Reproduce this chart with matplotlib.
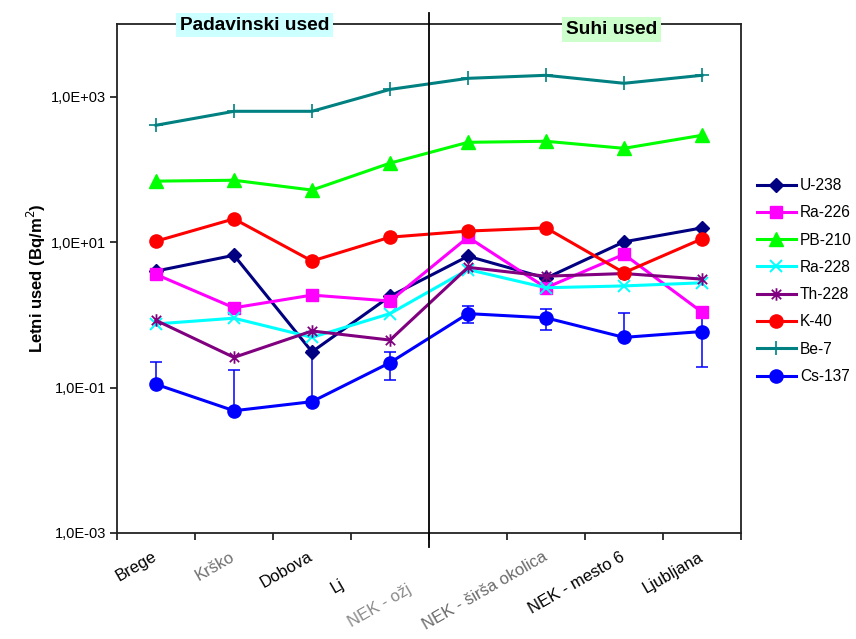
import numpy as np
import matplotlib
matplotlib.use("Agg")
import matplotlib.pyplot as plt
from matplotlib.path import Path
from matplotlib.ticker import FixedLocator, NullLocator, FuncFormatter
from matplotlib.transforms import blended_transform_factory, offset_copy

plt.rcParams['font.family'] = ['Liberation Sans', 'DejaVu Sans']

# Sampling locations (precipitation: first four, dry deposition: last four)
categories = ["Brege", "Krško", "Dobova", "Ljubljana",
              "NEK - ožja okolica", "NEK - širša okolica", "NEK - mesto 6", "Ljubljana"]
# number of characters printed for each location label (None = whole label)
label_chars = [None, None, None, 2, 9, None, None, None]
label_colors = ["black", "#707070", "black", "black", "#8a8a8a", "#6a6a6a", "black", "black"]

# Annual deposition (Bq/m^2)
u238 = [4.0, 6.6, 0.31, 1.8, 6.4, 3.2, 10.1, 15.7]
ra226 = [3.6, 1.25, 1.87, 1.55, 11.7, 2.36, 6.8, 1.09]
pb210 = [69, 71, 52, 122, 236, 244, 195, 295]
ra228 = [0.75, 0.9, 0.49, 1.04, 4.2, 2.36, 2.5, 2.76]
th228 = [0.84, 0.26, 0.6, 0.45, 4.5, 3.4, 3.7, 3.1]
k40 = [10.3, 20.9, 5.5, 11.7, 14.2, 15.7, 3.8, 11.1]
be7 = [405, 630, 630, 1260, 1790, 1970, 1530, 1970]
cs137 = [0.111, 0.048, 0.064, 0.22, 1.04, 0.91, 0.49, 0.59]
cs137_err = [0.114, 0.126, 0.25, 0.093, 0.27, 0.29, 0.585, 0.4]

group_titles = ["Padavinski used", "Suhi used"]

# Excel-style asterisk: an "x" crossed by a vertical stroke
asterisk = Path([(0, -1), (0, 1), (-0.75, -0.75), (0.75, 0.75), (-0.75, 0.75), (0.75, -0.75)],
                [Path.MOVETO, Path.LINETO] * 3)

series = [
    ("U-238", u238, dict(color="#000080", marker="D", ms=7.5)),
    ("Ra-226", ra226, dict(color="#FF00FF", marker="s", ms=8.5)),
    ("PB-210", pb210, dict(color="#00FF00", marker="^", ms=10)),
    ("Ra-228", ra228, dict(color="#00FFFF", marker="x", ms=8.5, mew=1.4)),
    ("Th-228", th228, dict(color="#800080", marker=asterisk, ms=9, mew=1.3)),
    ("K-40", k40, dict(color="#FF0000", marker="o", ms=9.5)),
    ("Be-7", be7, dict(color="#008080", marker="+", ms=10, mew=1.2)),
    ("Cs-137", cs137, dict(color="#0000FF", marker="o", ms=9.5)),
]

fig = plt.figure(figsize=(8.56, 6.39), dpi=100)
ax = fig.add_axes([117 / 856, 1 - 533 / 639, 624 / 856, 509 / 639])

x = np.arange(1, len(categories) + 1)

for name, vals, st in series:
    ax.plot(x, vals, lw=2.2, label=name, zorder=3, **st)

# Cs-137 uncertainties (lower whisker only where it stays positive)
cs = np.array(cs137)
err = np.array(cs137_err)
lower = np.where(err < cs, err, 0.0)
ax.errorbar(x, cs, yerr=[lower, err], fmt="none", ecolor="#0000FF",
            elinewidth=1.1, capsize=4, capthick=1.1, zorder=2.5)

ax.set_yscale("log")
ax.set_ylim(1e-3, 1e4)
ax.set_xlim(0.5, len(categories) + 0.5)
ax.yaxis.set_major_locator(FixedLocator([1e-3, 1e-1, 1e1, 1e3]))
ax.yaxis.set_minor_locator(NullLocator())
ax.yaxis.set_major_formatter(FuncFormatter(lambda v, p: "1,0E{:+03d}".format(int(round(np.log10(v))))))
ax.xaxis.set_major_locator(FixedLocator(np.arange(0.5, len(categories) + 1, 1.0)))
ax.xaxis.set_major_formatter(FuncFormatter(lambda v, p: ""))
ax.tick_params(axis="both", direction="out", length=5, width=1.1, labelsize=10.5)
ax.tick_params(axis="y", pad=3)

for s in ax.spines.values():
    s.set_linewidth(1.3)
    s.set_color("#222222")

ax.set_ylabel("Letni used (Bq/m$^2$)", fontsize=12, fontweight="bold", labelpad=2)

# divider between the two deposition groups
ax.axvline(4.5, ymin=-0.028, ymax=1.022, color="black", lw=1.3, clip_on=False, zorder=4)

ax.text(0.221, 0.998, group_titles[0], transform=ax.transAxes, ha="center", va="center",
        fontsize=13.8, fontweight="bold", zorder=5,
        bbox=dict(boxstyle="square,pad=0.2", fc="#CCFFFF", ec="none"))
ax.text(0.793, 0.989, group_titles[1], transform=ax.transAxes, ha="center", va="center",
        fontsize=13.8, fontweight="bold", zorder=5,
        bbox=dict(boxstyle="square,pad=0.2", fc="#CCFFCC", ec="none"))

# rotated category labels
fig.canvas.draw()
renderer = fig.canvas.get_renderer()
ang = np.deg2rad(30)
trans = blended_transform_factory(ax.transData, ax.transAxes)
dx, dy = -4, -16
for xi, lab, keep, col in zip(x, categories, label_chars, label_colors):
    if keep is None:
        ax.text(xi, 0, lab, transform=offset_copy(trans, fig, x=dx, y=dy, units="dots"),
                rotation=30, ha="right", va="top", rotation_mode="anchor",
                fontsize=12, color=col, clip_on=False)
    else:
        tmp = ax.text(0, 0, lab, fontsize=12)
        w = tmp.get_window_extent(renderer).width
        tmp.remove()
        sx = dx - w * np.cos(ang)
        sy = dy - w * np.sin(ang)
        ax.text(xi, 0, lab[:keep], transform=offset_copy(trans, fig, x=sx, y=sy, units="dots"),
                rotation=30, ha="left", va="top", rotation_mode="anchor",
                fontsize=12, color=col, clip_on=False)

fig.legend(loc="upper left", bbox_to_anchor=(757 / 856, 1 - 178 / 639), frameon=False,
           fontsize=11.2, handlelength=2.5, handletextpad=0.25, labelspacing=0.79,
           borderpad=0, borderaxespad=0)

fig.savefig("out.png", dpi=100)
